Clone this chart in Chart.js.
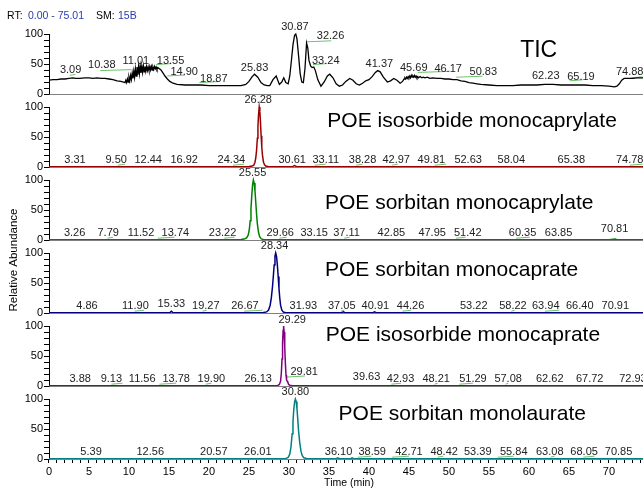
<!DOCTYPE html>
<html>
<head>
<meta charset="utf-8">
<title>Chromatogram</title>
<script src="https://cdn.jsdelivr.net/npm/chart.js@4.4.1/dist/chart.umd.min.js"></script>
<style>
  html, body { margin: 0; padding: 0; background: #fff; overflow: hidden; }
  #wrap { position: relative; width: 660px; height: 489px; }
</style>
</head>
<body>
<div id="wrap"><canvas id="chart"></canvas></div>
<script>
// ---- data: [time (min), relative abundance] ----
const ticTrace = [[0,23],[0.5,24],[1,24],[1.5,25],[2,25],[2.5,26],[3,27],[3.3,26],[3.8,26],[4.5,27],[5,27],[5.5,26],[6,27],[6.5,26],[7,26],[7.5,25],[8,24],[8.5,22],[9,21],[9.3,20],[9.5,19],[9.6,23],[9.7,19],[9.8,25],[9.9,20],[10,28],[10.1,22],[10.2,31],[10.3,24],[10.4,35],[10.5,26],[10.6,38],[10.7,28],[10.8,42],[10.9,30],[11,45],[11.1,32],[11.2,46],[11.3,34],[11.4,47],[11.5,35],[11.6,46],[11.7,36],[11.8,47],[11.9,37],[12,46],[12.1,38],[12.2,46],[12.3,39],[12.4,45],[12.5,39],[12.6,46],[12.7,40],[12.8,46],[12.9,40],[13,45],[13.1,41],[13.2,46],[13.3,42],[13.4,45],[13.5,41],[13.6,44],[13.8,42],[14,40],[14.2,36],[14.5,30],[14.8,25],[15.1,21],[15.5,18],[16,16],[17,15],[18,15],[19,15],[20,14],[21,14],[22,14],[23,14],[24,14],[24.6,16],[25,21],[25.4,29],[25.7,33],[26.1,28],[26.5,19],[26.9,15],[27.3,14],[27.6,14],[28,24],[28.4,30],[28.8,16],[29.1,20],[29.35,27],[29.6,19],[29.9,17],[30.1,30],[30.3,55],[30.5,82],[30.7,98],[30.85,100],[31,92],[31.2,64],[31.4,34],[31.6,20],[31.8,19],[32,42],[32.2,85],[32.35,77],[32.5,56],[32.7,47],[32.9,44],[33.1,45],[33.3,39],[33.6,24],[34,13],[34.4,20],[34.8,30],[35.1,33],[35.5,27],[35.9,17],[36.3,13],[36.7,15],[37.1,21],[37.6,26],[38,23],[38.4,17],[38.8,15],[39.2,18],[39.6,22],[40,24],[40.4,29],[40.8,36],[41.1,39],[41.4,37],[41.8,28],[42.3,20],[42.7,22],[43.1,26],[43.5,23],[43.9,18],[44.2,21],[44.4,25],[44.5,27],[44.6,25],[44.7,28],[44.8,26],[44.9,29],[45,27],[45.1,30],[45.2,27],[45.3,31],[45.4,28],[45.5,30],[45.6,28],[45.7,31],[45.8,28],[45.9,30],[46,27],[46.1,29],[46.2,27],[46.4,29],[46.6,27],[46.8,28],[47,27],[47.3,28],[47.6,26],[48,27],[48.5,26],[49,26],[49.5,25],[50,25],[50.5,24],[51,24],[51.5,22],[52,21],[52.5,19],[53,18],[53.5,17],[54,16],[55,15],[56,14],[57,14],[58,14],[59,15],[60,15],[61,15],[62,16],[63,16],[64,15],[65,15],[66,15],[67,15],[68,14],[69,14],[70,13],[70.7,12],[71,13],[71.3,17],[71.6,23],[71.9,26],[72.5,26],[73,26],[73.5,27],[74,27],[74.5,27],[75.01,27]];

const isoCaprylTrace = [[0,0.5],[5,0.5],[10,0.6],[15,0.5],[20,0.5],[24,0.6],[25,0.7],[25.4,1.5],[25.6,3],[25.75,8],[25.85,15],[25.95,28],[26.05,48],[26.12,68],[26.2,88],[26.28,100],[26.36,92],[26.44,74],[26.52,52],[26.6,33],[26.7,18],[26.82,8],[26.95,3.5],[27.1,1.5],[27.4,0.8],[28,0.5],[30,0.5],[30.5,1],[30.7,2.5],[30.9,1],[31.5,0.5],[35,0.5],[40,0.6],[45,0.5],[50,0.5],[55,0.5],[60,0.5],[65,0.5],[70,0.5],[75.01,0.5]];

const sorbCaprylTrace = [[0,0.5],[5,0.5],[10,0.5],[15,0.6],[20,0.5],[23,0.6],[24,0.8],[24.4,1.5],[24.7,3.5],[24.9,8],[25.05,18],[25.15,32],[25.25,52],[25.35,74],[25.45,92],[25.55,100],[25.65,95],[25.75,82],[25.85,63],[25.95,43],[26.05,27],[26.2,12],[26.35,5],[26.55,1.8],[26.8,0.8],[27.5,0.5],[30,0.5],[35,0.5],[40,0.5],[45,0.5],[50,0.5],[55,0.5],[60,0.5],[65,0.5],[70,0.5],[70.8,1.5],[71,0.5],[75.01,0.5]];

const sorbCapraTrace = [[0,0.5],[5,0.5],[10,0.5],[15,0.5],[15.15,1],[15.3,3],[15.45,1],[15.6,0.5],[20,0.5],[25,0.5],[26.8,0.7],[27.2,1.8],[27.45,5],[27.65,13],[27.8,26],[27.95,45],[28.05,62],[28.15,80],[28.25,95],[28.34,100],[28.45,94],[28.55,80],[28.65,61],[28.75,41],[28.85,25],[28.95,13],[29.1,5],[29.3,1.5],[29.6,0.6],[31,0.5],[35,0.5],[36.6,0.5],[36.8,2],[37,0.5],[40.5,0.5],[40.7,2],[40.9,0.5],[45,0.5],[50,0.5],[55,0.5],[60,0.5],[65,0.5],[70,0.5],[75.01,0.5]];

const isoCapraTrace = [[0,0.5],[5,0.5],[10,0.5],[15,0.5],[20,0.5],[25,0.5],[28,0.6],[28.6,1],[28.8,2.5],[28.95,8],[29.05,22],[29.13,45],[29.2,72],[29.27,93],[29.33,100],[29.4,90],[29.47,65],[29.55,38],[29.63,18],[29.7,10],[29.78,8],[29.86,6],[29.95,3],[30.1,1.2],[30.4,0.6],[32,0.5],[35,0.5],[40,0.5],[45,0.5],[50,0.5],[55,0.5],[60,0.5],[65,0.5],[70,0.5],[75.01,0.5]];

const sorbLaurTrace = [[0,0.5],[5,0.5],[10,0.5],[15,0.5],[20,0.5],[25,0.5],[29,0.6],[29.6,1],[29.9,2.5],[30.1,8],[30.25,20],[30.4,42],[30.5,62],[30.6,82],[30.7,95],[30.8,100],[30.9,96],[31,84],[31.1,66],[31.2,47],[31.35,27],[31.5,13],[31.65,6],[31.85,2],[32.2,0.7],[35,0.5],[35.9,0.5],[36.1,2],[36.3,0.5],[37.7,0.5],[37.9,1.8],[38.1,0.5],[40,0.5],[45,0.5],[50,0.5],[55,0.5],[60,0.5],[65,0.5],[70,0.5],[75.01,0.5]];

// peak labels: retention time text, where the text sits (min), abundance level it sits on
const ticRT = [3.09, 10.38, 11.01, 13.55, 14.90, 18.87, 25.83, 30.87, 32.26, 33.24, 41.37, 45.69, 46.17, 50.83, 62.23, 65.19, 74.88];
const ticAt = [2.7, 6.6, 10.85, 15.2, 16.9, 20.6, 25.7, 30.75, 35.2, 34.6, 41.3, 45.6, 49.9, 54.3, 62.1, 66.5, 72.6];
const ticLevel = [28, 37, 43, 43, 25, 13, 32, 100, 85, 43, 38, 32, 30, 25, 18, 17, 25];

const isoCaprylRT = [26.28, 3.31, 9.50, 12.44, 16.92, 24.34, 30.61, 33.11, 38.28, 42.97, 49.81, 52.63, 58.04, 65.38, 74.78];
const isoCaprylAt = [26.15, 3.25, 8.4, 12.4, 16.9, 22.8, 30.4, 34.6, 39.2, 43.4, 47.8, 52.4, 57.8, 65.3, 72.6];
const isoCaprylLevel = [100, 0, 0, 0, 0, 0, 0, 0, 0, 0, 0, 0, 0, 0, 0];

const sorbCaprylRT = [25.55, 3.26, 7.79, 11.52, 13.74, 23.22, 29.66, 33.15, 37.11, 42.85, 47.95, 51.42, 60.35, 63.85, 70.81];
const sorbCaprylAt = [25.45, 3.2, 7.4, 11.5, 15.8, 21.7, 28.9, 33.15, 37.2, 42.8, 47.9, 52.35, 59.2, 63.7, 70.7];
const sorbCaprylLevel = [100, 0, 0, 0, 0, 0, 0, 0, 0, 0, 0, 0, 0, 0, 6];

const sorbCapraRT = [28.34, 4.86, 11.90, 15.33, 19.27, 26.67, 31.93, 37.05, 40.91, 44.26, 53.22, 58.22, 63.94, 66.40, 70.91];
const sorbCapraAt = [28.2, 4.75, 10.8, 15.3, 19.6, 24.5, 31.8, 36.6, 40.8, 45.2, 53.1, 58.0, 62.1, 66.35, 70.8];
const sorbCapraLevel = [100, 0, 0, 3, 0, 0, 0, 0, 0, 0, 0, 0, 0, 0, 0];

const isoCapraRT = [29.29, 29.81, 3.88, 9.13, 11.56, 13.78, 19.90, 26.13, 39.63, 42.93, 48.21, 51.29, 57.08, 62.62, 67.72, 72.93];
const isoCapraAt = [30.4, 31.9, 3.9, 7.8, 11.65, 15.9, 20.3, 26.15, 39.7, 43.95, 48.4, 53.0, 57.4, 62.6, 67.6, 73.0];
const isoCapraLevel = [98, 11, 0, 0, 0, 0, 0, 0, 3, 0, 0, 0, 0, 0, 0, 0];

const sorbLaurRT = [30.80, 5.39, 12.56, 20.57, 26.01, 36.10, 38.59, 42.71, 48.42, 53.39, 55.84, 63.08, 68.05, 70.85];
const sorbLaurAt = [30.8, 5.26, 12.66, 20.6, 26.1, 36.2, 40.4, 45.0, 49.4, 53.6, 58.1, 62.6, 66.9, 71.2];
const sorbLaurLevel = [100, 0, 0, 0, 0, 0, 0, 0, 0, 0, 0, 0, 0, 0];

// green integration marks: [from min, to min, level]
const ticMarks = [[2.6,3.3,31],[6.4,10.3,39],[13.4,15.3,49],[14.8,17.0,30],[18.8,21.1,19],[32.2,35.3,87],[33.0,34.7,49],[46.1,50.1,36],[50.9,54.2,28],[65.1,66.7,22],[72.8,74.2,27]];
const isoCaprylMarks = [[8.6,9.5,3],[23.0,24.4,3],[33.2,34.6,3],[38.4,39.2,3],[42.9,43.6,3],[48.2,49.65,3],[72.6,74.2,3]];
const sorbCaprylMarks = [[7.3,8.0,3],[13.6,15.7,3],[21.9,23.2,3],[28.8,29.7,3],[36.9,37.6,3],[50.9,52.1,3],[58.4,60.1,3]];
const sorbCapraMarks = [[10.7,11.9,3],[19.2,19.7,3],[24.4,26.7,3],[36.5,36.9,3],[44.2,45.3,3],[57.8,58.2,3],[62.0,63.8,3]];
const isoCapraMarks = [[7.8,9.2,3],[13.8,15.9,3],[19.6,20.3,3],[29.8,32.0,15],[42.8,44.0,3],[48.2,48.6,3],[51.3,53.0,3],[57.1,57.4,3]];
const sorbLaurMarks = [[38.6,40.3,3],[42.9,45.0,3],[48.6,49.3,3],[56.1,58.1,3],[62.7,63.2,3],[66.8,68.2,3]];

const yTickValues = [0, 50, 100];

// ---- panel setup ----
const FONT = '"Liberation Sans", Arial, Helvetica, sans-serif';
const panels = [
  { title: 'TIC', titleSize: 23, titleAt: 58.9, titleLevel: 73, color: '#000000', trace: ticTrace, rt: ticRT, at: ticAt, level: ticLevel, marks: ticMarks },
  { title: 'POE isosorbide monocaprylate', titleSize: 21, titleAt: 34.8, titleLevel: 77, color: '#9a0000', trace: isoCaprylTrace, rt: isoCaprylRT, at: isoCaprylAt, level: isoCaprylLevel, marks: isoCaprylMarks },
  { title: 'POE sorbitan monocaprylate', titleSize: 21, titleAt: 34.5, titleLevel: 62, color: '#008000', trace: sorbCaprylTrace, rt: sorbCaprylRT, at: sorbCaprylAt, level: sorbCaprylLevel, marks: sorbCaprylMarks },
  { title: 'POE sorbitan monocaprate', titleSize: 21, titleAt: 34.5, titleLevel: 72, color: '#000080', trace: sorbCapraTrace, rt: sorbCapraRT, at: sorbCapraAt, level: sorbCapraLevel, marks: sorbCapraMarks },
  { title: 'POE isosorbide monocaprate', titleSize: 21, titleAt: 34.6, titleLevel: 84, color: '#800080', trace: isoCapraTrace, rt: isoCapraRT, at: isoCapraAt, level: isoCapraLevel, marks: isoCapraMarks },
  { title: 'POE sorbitan monolaurate', titleSize: 21, titleAt: 36.2, titleLevel: 75, color: '#008080', trace: sorbLaurTrace, rt: sorbLaurRT, at: sorbLaurAt, level: sorbLaurLevel, marks: sorbLaurMarks }
];

const Y_MAX = 121.7; // 100 sits 60px up a 73px panel

const scales = {
  x: {
    type: 'linear',
    position: 'bottom',
    min: 0,
    max: 75.01,
    afterFit: function(s) { s.height = 30; },
    ticks: {
      stepSize: 1,
      autoSkip: false,
      maxRotation: 0,
      padding: 2,
      color: '#000',
      font: { family: FONT, size: 11 },
      callback: function(v) { return v % 5 === 0 ? String(v) : ''; }
    },
    grid: { drawOnChartArea: false, tickLength: 4, color: '#000' },
    border: { display: true, color: '#000', width: 1 },
    title: { display: true, text: 'Time (min)', color: '#000', font: { family: FONT, size: 10.5 }, padding: { top: 0, bottom: 0 } }
  }
};

panels.forEach(function(p, i) {
  scales['y' + i] = {
    type: 'linear',
    position: 'left',
    stack: 'rows',
    stackWeight: 1,
    weight: panels.length - i,
    min: 0,
    max: Y_MAX,
    afterFit: function(s) { s.width = 49; },
    afterBuildTicks: function(s) { s.ticks = s.ticks.filter(function(t) { return t.value <= 100.001; }); },
    ticks: {
      stepSize: 10,
      autoSkip: false,
      padding: 1,
      color: '#000',
      font: { family: FONT, size: 11 },
      callback: function(v) { return yTickValues.includes(v) ? String(v) : ''; }
    },
    grid: { drawOnChartArea: false, tickLength: 5, color: '#000' },
    border: { display: false }
  };
});

const datasets = panels.map(function(p, i) {
  return {
    label: p.title,
    yAxisID: 'y' + i,
    data: p.trace.map(function(d) { return { x: d[0], y: d[1] }; }),
    borderColor: p.color,
    borderWidth: i === 0 ? 1.3 : 1.5,
    pointRadius: 0,
    tension: 0,
    fill: false
  };
});

// frames, green marks, labels, titles
const decor = {
  id: 'decor',
  beforeDatasetsDraw: function(chart) {
    const ctx = chart.ctx;
    const x = chart.scales.x;
    const area = chart.chartArea;
    ctx.save();
    ctx.lineWidth = 1;
    panels.forEach(function(p, i) {
      const y = chart.scales['y' + i];
      const y0 = Math.round(y.getPixelForValue(0)) + 0.5;
      ctx.strokeStyle = '#808080';
      ctx.beginPath();
      ctx.moveTo(area.left, y0);
      ctx.lineTo(area.right, y0);
      ctx.stroke();

      ctx.strokeStyle = '#000';
      ctx.beginPath();
      ctx.moveTo(area.left + 0.5, y0);
      ctx.lineTo(area.left + 0.5, Math.round(y.getPixelForValue(100)));
      ctx.stroke();

      ctx.strokeStyle = '#6cc46c';
      p.marks.forEach(function(m) {
        const py = y.getPixelForValue(m[2]);
        ctx.beginPath();
        ctx.moveTo(x.getPixelForValue(m[0]), py);
        ctx.lineTo(x.getPixelForValue(m[1]), py - 1);
        ctx.stroke();
      });
    });
    ctx.restore();
  },
  afterDatasetsDraw: function(chart) {
    const ctx = chart.ctx;
    const x = chart.scales.x;
    ctx.save();
    panels.forEach(function(p, i) {
      const y = chart.scales['y' + i];
      ctx.fillStyle = '#222';
      ctx.font = '11px ' + FONT;
      ctx.textAlign = 'center';
      ctx.textBaseline = 'middle';
      p.rt.forEach(function(rt, k) {
        ctx.fillText(rt.toFixed(2), x.getPixelForValue(p.at[k]), y.getPixelForValue(p.level[k]) - 7);
      });

      ctx.fillStyle = '#000';
      ctx.font = p.titleSize + 'px ' + FONT;
      ctx.textAlign = 'left';
      ctx.fillText(p.title, x.getPixelForValue(p.titleAt), y.getPixelForValue(p.titleLevel));
    });

    // header line
    ctx.font = '10.5px ' + FONT;
    ctx.textAlign = 'left';
    ctx.textBaseline = 'middle';
    ctx.fillStyle = '#000';
    ctx.fillText('RT:', 7, 16);
    ctx.fillText('SM:', 96, 16);
    ctx.fillStyle = '#2a3bb0';
    ctx.fillText('0.00 - 75.01', 28, 16);
    ctx.fillText('15B', 118, 16);

    // y title
    ctx.fillStyle = '#000';
    ctx.font = '11.5px ' + FONT;
    ctx.textAlign = 'center';
    ctx.translate(14, 260);
    ctx.rotate(-Math.PI / 2);
    ctx.fillText('Relative Abundance', 0, 0);
    ctx.restore();
  }
};

new Chart(document.getElementById('chart'), {
  type: 'line',
  data: { datasets: datasets },
  options: {
    responsive: true,
    maintainAspectRatio: false,
    animation: false,
    parsing: true,
    layout: { padding: { top: 21, right: 11, bottom: 0, left: 0 } },
    plugins: {
      legend: { display: false },
      tooltip: { enabled: false }
    },
    scales: scales
  },
  plugins: [decor]
});
</script>
</body>
</html>
